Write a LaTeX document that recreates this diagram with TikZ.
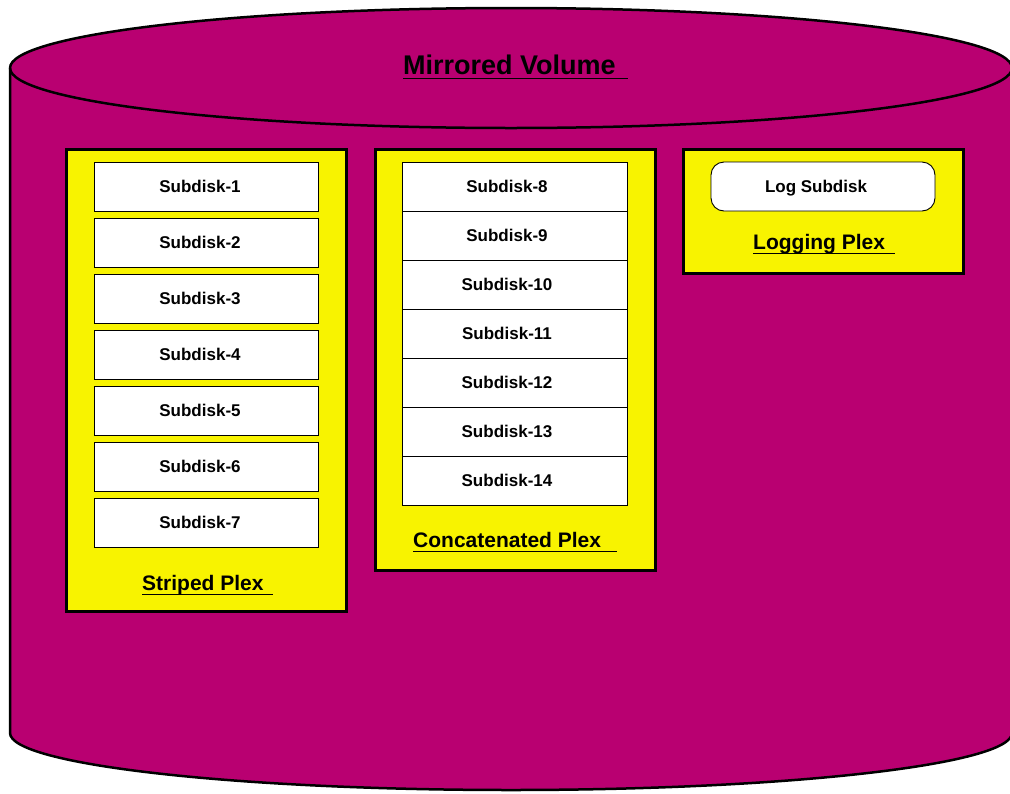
\documentclass[tikz,border=0pt]{standalone}
\usepackage{fontspec}
\setmainfont{Liberation Sans}
\definecolor{volmag}{RGB}{185,0,113}
\definecolor{plexyel}{RGB}{248,243,0}
\begin{document}
\begin{tikzpicture}[x=1pt,y=-1pt,
  plexbox/.style={draw=black,line width=3pt,fill=plexyel,inner sep=0pt},
  sdbox/.style={draw=black,line width=0.9pt,fill=white,inner sep=0pt,minimum height=49pt,font=\fontsize{17}{20}\selectfont\bfseries},
  plexlabel/.style={inner sep=0pt,anchor=base west,font=\fontsize{21}{24}\selectfont\bfseries},
  uline/.style={line width=1pt}]
\useasboundingbox (0,0) rectangle (1010,793);
% cylinder body
\path[fill=volmag,draw=black,line width=2.5pt]
  (10,68) -- (10,733) arc[start angle=180,end angle=0,x radius=501,y radius=57]
  -- (1012,68) arc[start angle=0,end angle=-180,x radius=501,y radius=60] -- cycle;
\draw[line width=2.5pt] (10,68) arc[start angle=180,end angle=0,x radius=501,y radius=60];
% title
\node[inner sep=0pt,anchor=base west,font=\fontsize{27}{30}\selectfont\bfseries] (title) at (403,74) {Mirrored Volume};
\draw[uline] ([yshift=-4pt]title.base west) -- ++(225,0);
% plexes
\node[plexbox,minimum width=280pt,minimum height=462pt] (striped) at (206,380) {};
\node[plexbox,minimum width=280pt,minimum height=421pt] (concat) at (515,359.5) {};
\node[plexbox,minimum width=280pt,minimum height=124pt] (logging) at (823,211) {};
% striped subdisks
\foreach \i in {1,...,7}{
  \node[sdbox,minimum width=224pt] (s\i) at (206,{186.5+56*(\i-1)}) {Subdisk-\i\kern12pt};
}
% concatenated subdisks
\foreach \i [evaluate=\i as \k using int(\i+7)] in {1,...,7}{
  \node[sdbox,minimum width=225pt] (c\k) at (514.5,{186.5+49*(\i-1)}) {Subdisk-\k\kern15pt};
}
% log subdisk
\node[sdbox,minimum width=224pt,rounded corners=13pt] (log) at (823,186.5) {\raisebox{0pt}[\height][0pt]{Log Subdisk}\kern14pt};
% labels
\node[plexlabel] (lstriped) at (142,590) {Striped Plex};
\draw[uline] ([yshift=-4pt]lstriped.base west) -- ++(131,0);
\node[plexlabel] (lconcat) at (413,547) {Concatenated Plex};
\draw[uline] ([yshift=-4pt]lconcat.base west) -- ++(204,0);
\node[plexlabel] (llog) at (753,249) {Logging Plex};
\draw[uline] ([yshift=-4pt]llog.base west) -- ++(142,0);
\end{tikzpicture}
\end{document}
